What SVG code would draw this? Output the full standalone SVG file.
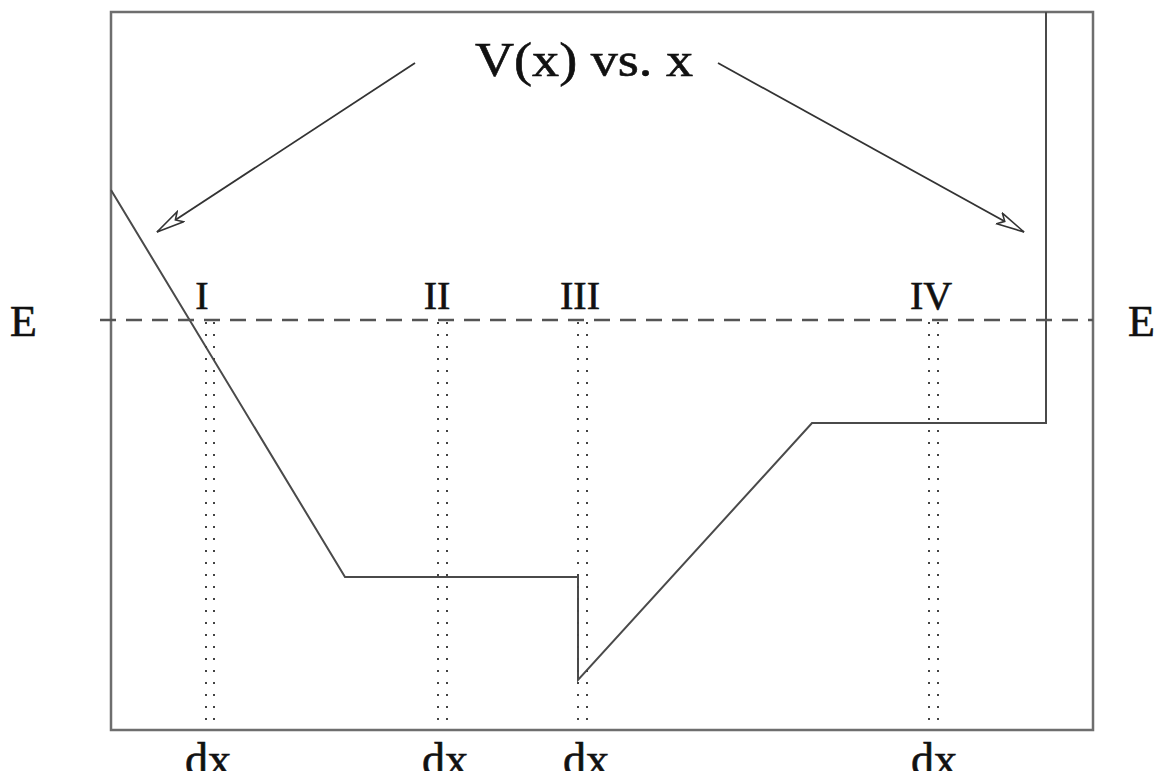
<svg xmlns="http://www.w3.org/2000/svg" width="1157" height="771" viewBox="0 0 1157 771">
<style>
.frame{fill:none;stroke:#6e6e6e;stroke-width:2.5}
.curve{fill:none;stroke:#4a4a4a;stroke-width:2;stroke-linejoin:miter}
.dash{fill:none;stroke:#555;stroke-width:2.5;stroke-dasharray:16 10}
.dot{fill:none;stroke:#444;stroke-width:2;stroke-dasharray:2 10}
.arrow{fill:none;stroke:#333;stroke-width:1.8}
.t{font-family:"Liberation Serif","Times New Roman",serif;fill:#111;stroke:#111;stroke-width:0.6}
</style>
<defs>
<marker id="open" markerWidth="32" markerHeight="16" refX="29" refY="7" orient="auto" markerUnits="userSpaceOnUse">
<path d="M1,1 L29,7 L1,13 L7,7 Z" fill="#fff" stroke="#333" stroke-width="1.6"/>
</marker>
</defs>
<rect x="0" y="0" width="1157" height="771" fill="#fff"/>
<g id="frame">
<rect class="frame" x="111" y="12" width="982" height="718"/>
</g>
<g id="potential">
<polyline class="curve" points="111,190 345,577 578,577 578,680 812,423 1046,423 1046,12"/>
</g>
<g id="energy-line">
<line class="dash" x1="100" y1="320" x2="1093" y2="320"/>
</g>
<g id="dx-lines">
<line class="dot" x1="206" y1="322" x2="206" y2="728"/>
<line class="dot" x1="214" y1="322" x2="214" y2="728"/>
<line class="dot" x1="438" y1="322" x2="438" y2="728"/>
<line class="dot" x1="447" y1="322" x2="447" y2="728"/>
<line class="dot" x1="578" y1="322" x2="578" y2="728"/>
<line class="dot" x1="587" y1="322" x2="587" y2="728"/>
<line class="dot" x1="929" y1="322" x2="929" y2="728"/>
<line class="dot" x1="938" y1="322" x2="938" y2="728"/>
</g>
<g id="connectors">
<line class="arrow" x1="415" y1="63" x2="157" y2="232" marker-end="url(#open)"/>
<line class="arrow" x1="718" y1="63" x2="1024" y2="232" marker-end="url(#open)"/>
</g>
<g id="title">
<text class="t" x="475" y="76" font-size="48" textLength="218" lengthAdjust="spacingAndGlyphs">V(x) vs. x</text>
</g>
<g id="labels">
<text class="t" x="10" y="336" font-size="44">E</text>
<text class="t" x="1128" y="336" font-size="44">E</text>
<text class="t" x="202" y="309" font-size="40" text-anchor="middle">I</text>
<text class="t" x="437" y="309" font-size="40" text-anchor="middle">II</text>
<text class="t" x="580" y="309" font-size="40" text-anchor="middle">III</text>
<text class="t" x="931" y="309" font-size="40" text-anchor="middle">IV</text>
<text class="t" x="208" y="775" font-size="46" text-anchor="middle">dx</text>
<text class="t" x="445" y="775" font-size="46" text-anchor="middle">dx</text>
<text class="t" x="586" y="775" font-size="46" text-anchor="middle">dx</text>
<text class="t" x="934" y="775" font-size="46" text-anchor="middle">dx</text>
</g>
</svg>
